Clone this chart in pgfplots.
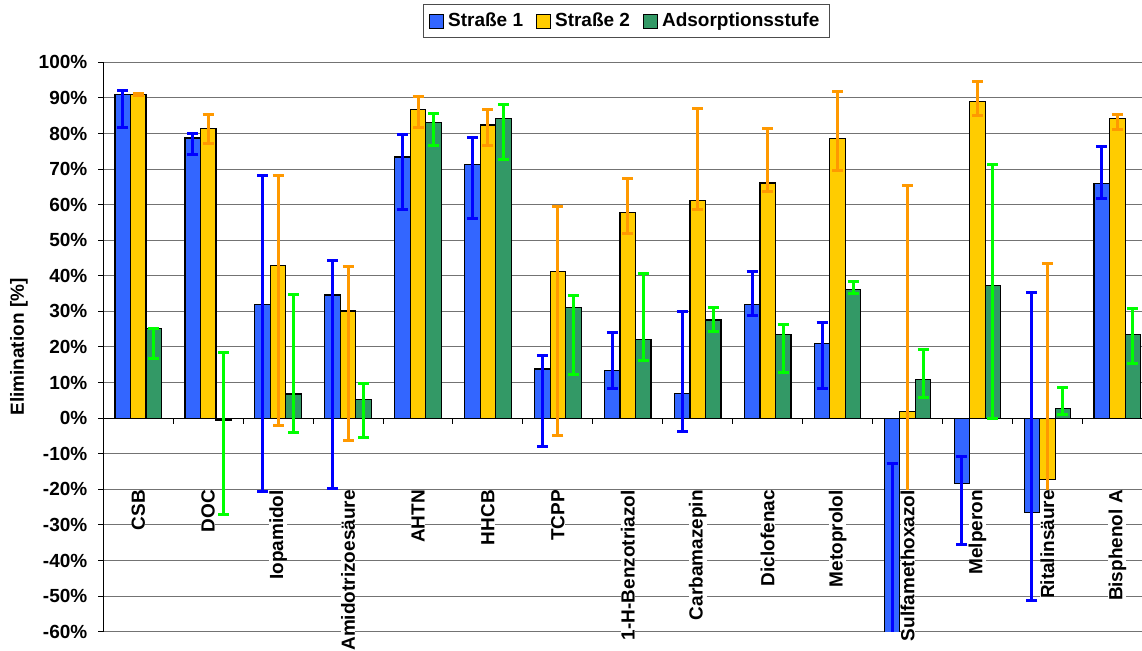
\documentclass[border=0pt]{standalone}
\usepackage{fontspec}
\setmainfont{Liberation Sans}
\usepackage{pgfplots}
\pgfplotsset{compat=1.18}

\definecolor{sOneFill}{HTML}{3366FF}
\definecolor{sTwoFill}{HTML}{FFCC00}
\definecolor{adsFill}{HTML}{339966}
\definecolor{sOneErr}{HTML}{0000FF}
\definecolor{sTwoErr}{HTML}{FF9900}
\definecolor{adsErr}{HTML}{00FF00}

% tick labels above the bars, so the white label boxes hide error bars like in the original
\pgfplotsset{
  layers/labelsontop/.define layer set={
    axis background,axis grid,axis ticks,axis lines,pre main,main,axis tick labels,axis descriptions,axis foreground
  }{
    grid style={/pgfplots/on layer=axis grid},
    tick style={/pgfplots/on layer=axis ticks},
    axis line style={/pgfplots/on layer=axis lines},
    label style={/pgfplots/on layer=axis descriptions},
    legend style={/pgfplots/on layer=axis descriptions},
    title style={/pgfplots/on layer=axis descriptions},
    colorbar style={/pgfplots/on layer=axis descriptions},
    ticklabel style={/pgfplots/on layer=axis tick labels},
    axis background@ style={/pgfplots/on layer=axis background},
    3d box foreground style={/pgfplots/on layer=axis foreground},
  },
}

\newcommand{\chartfont}{\fontsize{9.5}{11}\selectfont\bfseries}

\begin{document}
\begin{tikzpicture}
\begin{axis}[
  name=ax,
  set layers=labelsontop,
  scale only axis,
  width=524.5pt, height=284.7pt,
  xmin=-0.5, xmax=14.5,
  ymin=-60, ymax=100,
  axis x line*=middle, axis y line*=left,
  axis line style={black, line width=0.5pt},
  ytick={-60,-50,...,100},
  yticklabel={\pgfmathprintnumber[assume math mode=true]{\tick}\%},
  yticklabel style={font=\chartfont, inner sep=0pt},
  yticklabel shift=5.3pt,
  xtick={0,...,14},
  xticklabels={CSB,DOC,Iopamidol,Amidotrizoesäure,AHTN,HHCB,TCPP,1-H-Benzotriazol,Carbamazepin,Diclofenac,Metoprolol,Sulfamethoxazol,Melperon,Ritalinsäure,Bisphenol A},
  xticklabel style={font=\chartfont, rotate=90, anchor=east, inner sep=0pt, fill=white},
  xticklabel shift=33.3pt,
  minor xtick={0.5,1.5,...,13.5},
  major x tick style={draw=none},
  tick align=outside,
  major tick length=2.5pt, minor tick length=2.85pt,
  tick style={black, line width=0.5pt},
  ymajorgrids,
  grid style={black!55, line width=0.5pt},
  ylabel={Elimination [\%]},
  ylabel style={font=\chartfont, at={([xshift=-37.5pt]axis description cs:0,0.5)}, anchor=south, inner sep=0pt},
  ybar, bar width=0.222,
  legend columns=-1,
  legend style={at={([yshift=20.55pt]axis description cs:0.4985,1)}, anchor=center,
    font=\chartfont, draw=black!70, line width=0.5pt,
    /tikz/every even column/.append style={column sep=4.5pt}},
  legend image code/.code={\draw[#1, line width=0.5pt] (0pt,-3.5pt) rectangle (7pt,3.5pt);},
  error bars/y dir=both, error bars/y explicit,
]
\addplot[bar shift=-0.222, fill=sOneFill, draw=black, line width=0.6pt,
  error bars/error bar style={sOneErr, line width=1.5pt},
  error bars/error mark options={sOneErr, line width=1.5pt, mark size=2.75pt, rotate=90}]
coordinates {
  (0,91.0) += (0,1.2) -= (0,9.3)
  (1,78.7) += (0,1.3) -= (0,4.5)
  (2,31.9) += (0,36.2) -= (0,52.5)
  (3,34.6) += (0,9.8) -= (0,54.3)
  (4,73.4) += (0,6.4) -= (0,14.7)
  (5,71.2) += (0,7.8) -= (0,15.0)
  (6,13.8) += (0,3.7) -= (0,21.9)
  (7,13.4) += (0,10.8) -= (0,5.1)
  (8,7.0) += (0,23.1) -= (0,10.7)
  (9,31.9) += (0,9.4) -= (0,3.0)
  (10,20.9) += (0,6.1) -= (0,12.6)
  (11,-100.0) += (0,87.2) -= (0,10.0)
  (12,-18.4) += (0,7.5) -= (0,17.2)
  (13,-26.6) += (0,61.9) -= (0,24.6)
  (14,65.9) += (0,10.3) -= (0,4.1)
};
\addlegendentry{Straße 1}
\addplot[bar shift=0, fill=sTwoFill, draw=black, line width=0.6pt,
  error bars/error bar style={sTwoErr, line width=1.5pt},
  error bars/error mark options={sTwoErr, line width=1.5pt, mark size=2.75pt, rotate=90}]
coordinates {
  (0,91.0) += (0,0.3) -= (0,0.3)
  (1,81.4) += (0,4.0) -= (0,4.2)
  (2,42.9) += (0,25.2) -= (0,45.0)
  (3,30.1) += (0,12.5) -= (0,36.3)
  (4,86.8) += (0,3.7) -= (0,5.2)
  (5,82.4) += (0,4.2) -= (0,5.9)
  (6,41.2) += (0,18.4) -= (0,46.0)
  (7,57.9) += (0,9.5) -= (0,6.1)
  (8,61.2) += (0,25.8) -= (0,2.6)
  (9,66.1) += (0,15.2) -= (0,2.4)
  (10,78.5) += (0,13.4) -= (0,8.9)
  (11,1.8) += (0,63.5) -= (0,60.0)
  (12,88.9) += (0,5.6) -= (0,3.9)
  (13,-17.3) += (0,60.8) -= (0,27.7)
  (14,84.1) += (0,1.2) -= (0,2.9)
};
\addlegendentry{Straße 2}
\addplot[bar shift=0.222, fill=adsFill, draw=black, line width=0.6pt,
  error bars/error bar style={adsErr, line width=1.5pt},
  error bars/error mark options={adsErr, line width=1.5pt, mark size=2.75pt, rotate=90}]
coordinates {
  (0,25.1) += (0,0.0) -= (0,8.4)
  (1,-0.5) += (0,19.0) -= (0,26.5)
  (2,6.8) += (0,28.0) -= (0,10.7)
  (3,5.3) += (0,4.3) -= (0,10.6)
  (4,83.0) += (0,2.5) -= (0,6.3)
  (5,84.2) += (0,3.8) -= (0,11.4)
  (6,31.1) += (0,3.3) -= (0,18.7)
  (7,22.1) += (0,18.5) -= (0,5.8)
  (8,27.6) += (0,3.5) -= (0,3.2)
  (9,23.6) += (0,2.8) -= (0,10.7)
  (10,36.2) += (0,2.2) -= (0,1.2)
  (11,10.8) += (0,8.6) -= (0,4.9)
  (12,37.2) += (0,34.2) -= (0,37.2)
  (13,2.8) += (0,5.8) -= (0,1.8)
  (14,23.5) += (0,7.2) -= (0,8.1)
};
\addlegendentry{Adsorptionsstufe}
\end{axis}
\pgfresetboundingbox
\path[use as bounding box] ([shift={(-51.65pt,-9.65pt)}]ax.south west) rectangle ([shift={(-5.15pt,31.15pt)}]ax.north east);
\end{tikzpicture}
\end{document}
